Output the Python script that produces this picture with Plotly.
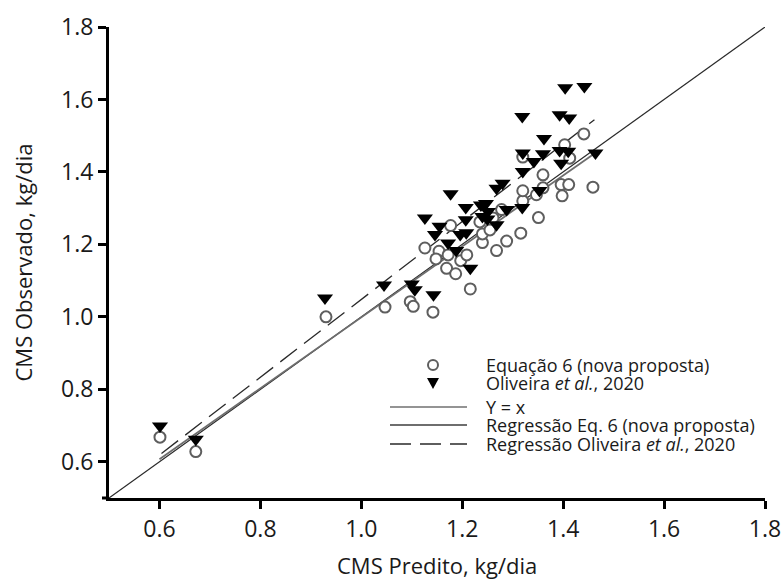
import plotly.graph_objects as go

# Predicted vs observed dry matter intake (kg/dia)
pred_eq6 = [0.601, 0.672, 0.930, 1.047, 1.097, 1.103, 1.142, 1.216, 1.126, 1.154,
            1.148, 1.169, 1.187, 1.197, 1.209, 1.172, 1.177, 1.240, 1.240, 1.235,
            1.255, 1.268, 1.288, 1.316, 1.351, 1.261, 1.278, 1.320, 1.320, 1.347,
            1.360, 1.396, 1.411, 1.398, 1.459, 1.360, 1.320, 1.413, 1.403, 1.441]
obs_eq6 = [0.668, 0.628, 1.000, 1.027, 1.042, 1.029, 1.013, 1.077, 1.190, 1.181,
           1.160, 1.134, 1.119, 1.155, 1.171, 1.171, 1.252, 1.205, 1.229, 1.262,
           1.240, 1.183, 1.209, 1.231, 1.274, 1.273, 1.296, 1.320, 1.348, 1.337,
           1.356, 1.365, 1.365, 1.334, 1.358, 1.392, 1.441, 1.438, 1.475, 1.505]

pred_oliv = [0.601, 0.672, 0.928, 1.045, 1.100, 1.106, 1.143, 1.216, 1.188, 1.172,
             1.146, 1.155, 1.126, 1.177, 1.196, 1.208, 1.207, 1.207, 1.237, 1.247,
             1.240, 1.250, 1.251, 1.268, 1.288, 1.319, 1.268, 1.280, 1.353, 1.320,
             1.342, 1.320, 1.360, 1.393, 1.410, 1.396, 1.464, 1.362, 1.319, 1.393,
             1.412, 1.404, 1.442]
obs_oliv = [0.699, 0.662, 1.052, 1.088, 1.091, 1.075, 1.061, 1.134, 1.183, 1.204,
            1.227, 1.250, 1.273, 1.340, 1.227, 1.232, 1.268, 1.302, 1.309, 1.313,
            1.277, 1.270, 1.291, 1.254, 1.296, 1.302, 1.355, 1.369, 1.349, 1.401,
            1.429, 1.452, 1.450, 1.459, 1.457, 1.424, 1.452, 1.492, 1.553, 1.558,
            1.549, 1.632, 1.636]

# Reference and fitted lines (end points)
identity_x = [0.5, 1.8]
identity_y = [0.5, 1.8]
reg_eq6_x = [0.600, 1.460]
reg_eq6_y = [0.607, 1.449]
reg_oliv_x = [0.604, 1.462]
reg_oliv_y = [0.623, 1.544]

tick_vals = [0.6, 0.8, 1.0, 1.2, 1.4, 1.6, 1.8]

FONT = "Open Sans"
INK = "#1a1a1a"
DASH = "21px,9px"

fig = go.Figure()

fig.add_trace(go.Scatter(x=identity_x, y=identity_y, mode="lines",
                         line=dict(color="#2a2a2a", width=1.2), showlegend=False))
fig.add_trace(go.Scatter(x=reg_eq6_x, y=reg_eq6_y, mode="lines",
                         line=dict(color="#6e6e6e", width=1.8), showlegend=False))
fig.add_trace(go.Scatter(x=reg_oliv_x, y=reg_oliv_y, mode="lines",
                         line=dict(color="#2a2a2a", width=1.3, dash=DASH),
                         showlegend=False))
fig.add_trace(go.Scatter(x=pred_eq6, y=obs_eq6, mode="markers",
                         marker=dict(symbol="circle", size=11, color="white",
                                     line=dict(color="#5e5e5e", width=2)),
                         showlegend=False))
fig.add_trace(go.Scatter(x=pred_oliv, y=obs_oliv, mode="markers",
                         marker=dict(symbol="triangle-down", size=14, color="black",
                                     line=dict(width=0)),
                         showlegend=False))

# Plot area in pixels
L, R, T, B = 109, 765, 27, 498
W, H = 784, 581


def px(x):
    return (x - L) / (R - L)


def py(y):
    return (B - y) / (B - T)


shapes = []
annotations = []

# Small overhang of the x axis line to the left of the y axis
shapes.append(dict(type="line", xref="paper", yref="paper", x0=px(102), x1=0,
                   y0=0, y1=0, line=dict(color="black", width=3)))

# Axis titles
annotations.append(dict(text="CMS Predito, kg/dia", xref="paper", yref="paper",
                        x=0.5, y=py(565), xanchor="center", yanchor="middle",
                        showarrow=False, font=dict(family=FONT, size=22, color=INK)))
annotations.append(dict(text="CMS Observado, kg/dia", xref="paper", yref="paper",
                        x=px(22), y=0.5, xanchor="center", yanchor="middle",
                        textangle=-90, showarrow=False,
                        font=dict(family=FONT, size=22, color=INK)))

# Legend
leg_x0, leg_x1, leg_mid, txt_x = 390, 467, 433, 484
rows = [365, 383, 407, 425, 444]
labels = ["Equação 6 (nova proposta)",
          "Oliveira <i>et al.</i>, 2020",
          "Y = x",
          "Regressão Eq. 6 (nova proposta)",
          "Regressão Oliveira <i>et al.</i>, 2020"]

shapes.append(dict(type="circle", xref="paper", yref="paper",
                   xsizemode="pixel", ysizemode="pixel",
                   xanchor=px(leg_mid), yanchor=py(rows[0]),
                   x0=-5, x1=5, y0=-5, y1=5,
                   fillcolor="white", line=dict(color="#5e5e5e", width=2)))
shapes.append(dict(type="path", xref="paper", yref="paper",
                   xsizemode="pixel", ysizemode="pixel",
                   xanchor=px(leg_mid), yanchor=py(rows[1]),
                   path="M-6,5 L6,5 L0,-6 Z",
                   fillcolor="black", line=dict(width=0)))
line_styles = [dict(color="#2a2a2a", width=1.2),
               dict(color="#6e6e6e", width=1.8),
               dict(color="#2a2a2a", width=1.3, dash=DASH)]
for r, st in zip(rows[2:], line_styles):
    shapes.append(dict(type="line", xref="paper", yref="paper",
                       x0=px(leg_x0), x1=px(leg_x1), y0=py(r), y1=py(r), line=st))
for r, lab in zip(rows, labels):
    annotations.append(dict(text=lab, xref="paper", yref="paper",
                            x=px(txt_x), y=py(r), xanchor="left", yanchor="middle",
                            showarrow=False,
                            font=dict(family=FONT, size=18, color=INK)))

axis_common = dict(range=[0.5, 1.8], tickvals=tick_vals, tickformat=".1f",
                   showline=True, linecolor="black", linewidth=3,
                   ticks="outside", ticklen=8, tickwidth=3, tickcolor="black",
                   showgrid=False, zeroline=False, automargin=False,
                   tickfont=dict(family=FONT, size=23, color=INK))

fig.update_layout(
    width=W, height=H,
    margin=dict(l=L, r=W - R, t=T, b=H - B),
    plot_bgcolor="white", paper_bgcolor="white",
    showlegend=False,
    xaxis=dict(**axis_common),
    yaxis=dict(**axis_common),
    shapes=shapes,
    annotations=annotations,
)

fig.write_html("out.html")
